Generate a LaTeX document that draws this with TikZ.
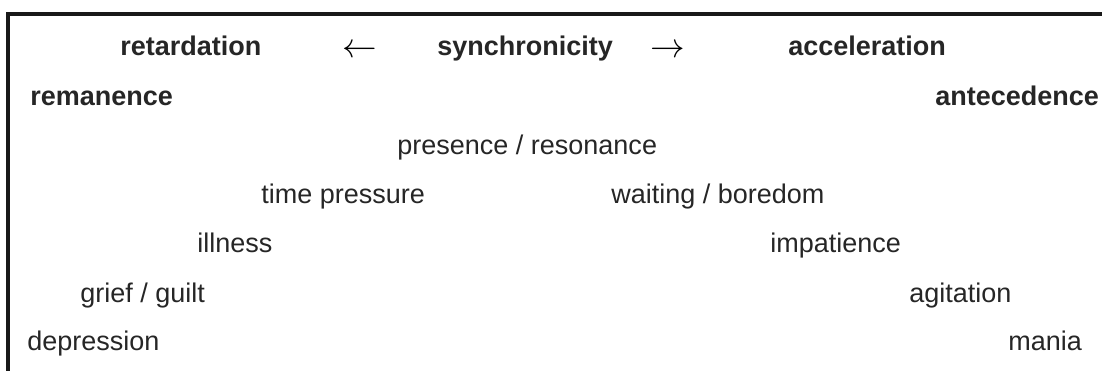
\documentclass[tikz,border=0pt]{standalone}
\usepackage{fontspec}
\setmainfont{Liberation Sans}
\begin{document}
\begin{tikzpicture}[x=0.5pt,y=-0.5pt,
  lbl/.style={anchor=base west,inner sep=0pt,font=\fontsize{13.5}{16}\selectfont,text=black!85},
  blbl/.style={lbl,font=\fontsize{13.5}{16}\selectfont\bfseries},
  arr/.style={anchor=center,inner sep=0pt,font=\fontsize{18}{20}\selectfont,text=black},
  frame/.style={line width=2pt,black!90}]
\useasboundingbox (0,0) rectangle (1102,371);
\draw[frame] (1102,14) -- (8,14) -- (8,371);
% row 1
\node[blbl] (ret) at (120,55) {retardation};
\node[arr] (la) at (359.5,51.5) {$\leftarrow$};
\node[blbl] (syn) at (437,55) {synchronicity};
\node[arr] (ra) at (667.5,51.5) {$\rightarrow$};
\node[blbl] (acc) at (788,55) {acceleration};
% row 2
\node[blbl] (rem) at (30,105) {remanence};
\node[blbl] (ant) at (935,105) {antecedence};
% row 3
\node[lbl] (pre) at (397,154) {presence / resonance};
% row 4
\node[lbl] (tp) at (261,203) {time pressure};
\node[lbl] (wb) at (611,203) {waiting / boredom};
% row 5
\node[lbl] (ill) at (197,252) {illness};
\node[lbl] (imp) at (770,252) {impatience};
% row 6
\node[lbl] (gg) at (80,302) {grief / guilt};
\node[lbl] (agi) at (909,302) {agitation};
% row 7
\node[lbl] (dep) at (27,350) {depression};
\node[lbl] (man) at (1008,350) {mania};
\end{tikzpicture}
\end{document}
